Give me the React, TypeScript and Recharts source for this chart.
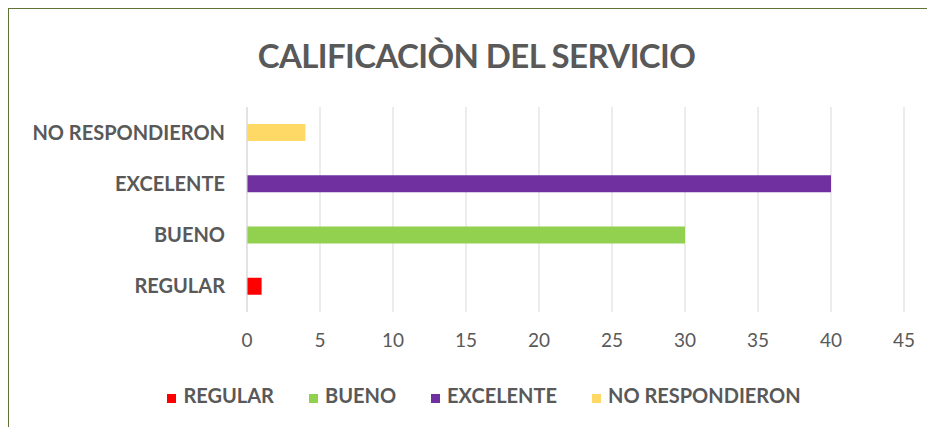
import { BarChart, Bar, XAxis, YAxis, CartesianGrid, Legend } from 'recharts'

const categories = ['REGULAR', 'BUENO', 'EXCELENTE', 'NO RESPONDIERON']
const values = [1, 30, 40, 4]
const colors = ['#FF0000', '#92D050', '#7030A0', '#FFD966']
const xTicks = [0, 5, 10, 15, 20, 25, 30, 35, 40, 45]
const boundaryTicks = [0, 1, 2, 3, 4]

const rows = categories.map((c, i) => ({ name: c, [c]: values[i] }))

const font = 'Lato, "Open Sans", sans-serif'
const gray = '#595959'

export default function App() {
  return (
    <div style={{ width: 927, height: 419, overflow: 'hidden', position: 'relative' }}>
      <div
        style={{
          position: 'absolute',
          left: -1,
          top: -1,
          width: 950,
          height: 440,
          border: '2px solid #5F7335',
          background: '#fff',
          fontFamily: font,
        }}
      >
        <div
          style={{
            position: 'absolute',
            top: 26,
            left: 0,
            width: 935,
            textAlign: 'center',
            fontSize: 33,
            fontWeight: 700,
            color: gray,
            letterSpacing: -0.6,
          }}
        >
          CALIFICACIÒN DEL SERVICIO
        </div>
        <BarChart
          width={925}
          height={410}
          data={rows}
          layout="vertical"
          margin={{ top: 98, right: 30, bottom: 12, left: 0 }}
        >
          <CartesianGrid horizontal={false} stroke="#D9D9D9" />
          <XAxis
            type="number"
            domain={[0, 45]}
            ticks={xTicks}
            axisLine={false}
            tickLine={false}
            tickSize={0}
            tickMargin={22}
            height={71}
            tick={{ fill: gray, fontSize: 19, fontFamily: font }}
          />
          <YAxis
            type="category"
            dataKey="name"
            reversed
            width={238}
            axisLine={{ stroke: '#D9D9D9' }}
            tickLine={false}
            tickSize={6}
            tickMargin={16}
            tick={{ fill: gray, fontSize: 20, fontWeight: 700, fontFamily: font }}
          />
          <YAxis
            yAxisId="edges"
            type="number"
            domain={[0, 4]}
            ticks={boundaryTicks}
            width={0}
            axisLine={false}
            tickLine={{ stroke: '#D9D9D9' }}
            tickSize={6}
            tickFormatter={() => ''}
          />
          {categories.map((c, i) => (
            <Bar key={c} dataKey={c} stackId="a" fill={colors[i]} barSize={17} isAnimationActive={false} />
          ))}
          <Legend
            verticalAlign="bottom"
            iconType="square"
            iconSize={9}
            itemSorter={(item: any) => categories.indexOf(item.value)}
            wrapperStyle={{ fontFamily: font, left: 45 }}
            formatter={(value: string) => (
              <span style={{ color: gray, fontWeight: 700, fontSize: 20, marginLeft: 3, marginRight: 25 }}>
                {value}
              </span>
            )}
          />
        </BarChart>
      </div>
    </div>
  )
}
